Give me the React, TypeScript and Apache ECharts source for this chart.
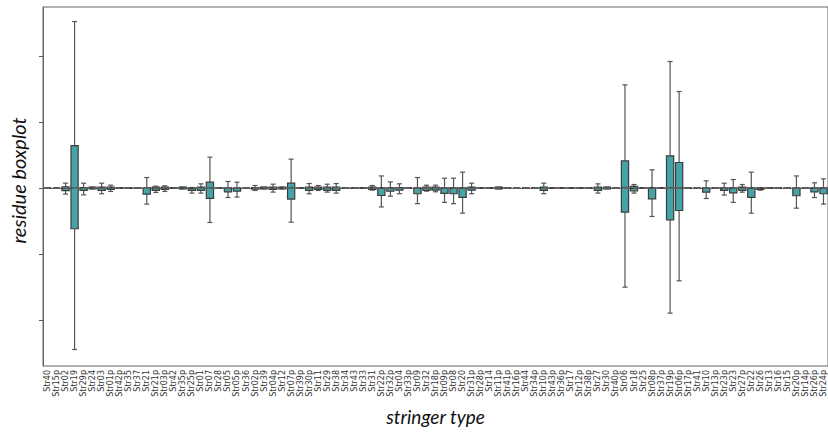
import React, { useEffect, useRef } from "react";
import * as echarts from "echarts";

// Stringer types along the x axis
const categories = [
  "Str40", "Str15p", "Str02", "Str19", "Str29p", "Str24", "Str03", "Str01p", "Str42p", "Str35",
  "Str37", "Str21", "Str21p", "Str03p", "Str42", "Str35p", "Str25p", "Str01", "Str07", "Str28",
  "Str05", "Str05p", "Str36", "Str02p", "Str39", "Str04p", "Str12", "Str07p", "Str39p", "Str30p",
  "Str11", "Str29", "Str38", "Str34", "Str43", "Str33", "Str31", "Str22p", "Str32p", "Str04",
  "Str33p", "Str09", "Str32", "Str18p", "Str09p", "Str08", "Str20", "Str31p", "Str28p", "Str14",
  "Str11p", "Str41p", "Str16p", "Str44", "Str34p", "Str10p", "Str43p", "Str36p", "Str17", "Str12p",
  "Str38p", "Str27", "Str30", "Str40p", "Str06", "Str18", "Str25", "Str08p", "Str37p", "Str19p",
  "Str06p", "Str17p", "Str41", "Str10", "Str13p", "Str23p", "Str23", "Str27p", "Str22", "Str26",
  "Str13", "Str16", "Str15", "Str20p", "Str14p", "Str26p", "Str24p",
];

// Lower whisker end per stringer type
const whiskerLow = [
  0, 0, -0.095, -2.45, -0.106, -0.015, -0.09, -0.055, 0, 0,
  0, -0.247, -0.07, -0.055, 0, -0.015, -0.08, -0.08, -0.525, 0,
  -0.147, -0.14, 0, -0.04, -0.015, -0.065, -0.015, -0.52, 0, -0.09,
  -0.04, -0.065, -0.08, 0, 0, 0, -0.035, -0.29, -0.126, -0.09,
  0, -0.24, -0.05, -0.06, -0.22, -0.24, -0.384, -0.09, 0, 0,
  -0.015, 0, 0, 0, 0, -0.09, 0, 0, 0, 0,
  0, -0.08, -0.015, 0, -1.505, -0.08, 0, -0.434, 0, -1.899,
  -1.409, 0, 0, -0.162, 0, -0.11, -0.22, -0.066, -0.384, -0.035,
  0, 0, 0, -0.308, 0, -0.147, -0.247,
];

// First quartile
const boxLow = [
  0, 0, -0.041, -0.62, -0.04, -0.015, -0.04, -0.025, 0, 0,
  0, -0.095, -0.04, -0.025, 0, -0.015, -0.04, -0.04, -0.16, 0,
  -0.06, -0.05, 0, -0.02, -0.015, -0.025, -0.015, -0.17, 0, -0.04,
  -0.025, -0.04, -0.04, 0, 0, 0, -0.025, -0.116, -0.05, -0.035,
  0, -0.09, -0.04, -0.035, -0.085, -0.09, -0.146, -0.035, 0, 0,
  -0.015, 0, 0, 0, 0, -0.04, 0, 0, 0, 0,
  0, -0.04, -0.015, 0, -0.368, -0.048, 0, -0.167, 0, -0.485,
  -0.344, 0, 0, -0.066, 0, -0.04, -0.076, -0.04, -0.146, -0.025,
  0, 0, 0, -0.12, 0, -0.06, -0.09,
];

// Median
const median = [
  0, 0, -0.01, 0, 0, 0, 0, 0, 0, 0,
  0, 0, -0.01, 0, 0, 0, -0.01, 0, 0, 0,
  -0.005, -0.005, 0, 0, 0, 0, 0, 0, 0, 0,
  0, 0, 0, 0, 0, 0, 0, -0.005, -0.005, 0,
  0, -0.005, 0, 0, -0.005, -0.005, -0.005, 0, 0, 0,
  0, 0, 0, 0, 0, 0, 0, 0, 0, 0,
  0, 0, 0, 0, 0.005, -0.01, 0, -0.005, 0, 0,
  0, 0, 0, -0.005, 0, -0.005, -0.005, 0, -0.005, -0.005,
  0, 0, 0, -0.005, 0, -0.005, -0.005,
];

// Third quartile
const boxHigh = [
  0, 0, 0.015, 0.64, 0.005, 0.01, 0.01, 0.01, 0, 0,
  0, 0.005, 0.01, 0.01, 0, 0.01, 0, 0.01, 0.086, 0,
  0, 0, 0, 0.005, 0.01, 0.01, 0.01, 0.07, 0, 0.01,
  0.01, 0.01, 0.01, 0, 0, 0, 0.01, 0, 0, 0.005,
  0, 0, 0.01, 0.01, 0, 0, 0, 0.01, 0, 0,
  0.01, 0, 0, 0, 0, 0.01, 0, 0, 0, 0,
  0, 0.01, 0.01, 0, 0.409, 0.023, 0, 0.005, 0, 0.485,
  0.384, 0, 0, 0.005, 0, 0, 0, 0.01, 0, 0,
  0, 0, 0, 0, 0, 0, 0,
];

// Upper whisker end
const whiskerHigh = [
  0, 0, 0.071, 2.52, 0.07, 0.01, 0.07, 0.04, 0, 0,
  0, 0.156, 0.025, 0.03, 0, 0.01, 0.005, 0.06, 0.465, 0,
  0.096, 0.086, 0, 0.035, 0.01, 0.055, 0.01, 0.434, 0, 0.065,
  0.035, 0.055, 0.065, 0, 0, 0, 0.035, 0.18, 0.09, 0.06,
  0, 0.156, 0.04, 0.04, 0.146, 0.146, 0.237, 0.07, 0, 0,
  0.01, 0, 0, 0, 0, 0.07, 0, 0, 0, 0,
  0, 0.06, 0.01, 0, 1.56, 0.05, 0, 0.273, 0, 1.914,
  1.459, 0, 0, 0.106, 0, 0.07, 0.126, 0.05, 0.237, 0,
  0, 0, 0, 0.18, 0, 0.076, 0.136,
];

const yTicks = [-2, -1, 0, 1, 2];

const BOX_FILL = "#46a4a8";
const BOX_EDGE = "#3c3c3c";
const WHISKER = "#555555";

export default function App() {
  const ref = useRef<HTMLDivElement>(null);

  useEffect(() => {
    if (!ref.current) return;
    const chart = echarts.init(ref.current, null, { renderer: "svg" });

    const rows = categories.map((_, i) => [
      i,
      whiskerLow[i],
      boxLow[i],
      median[i],
      boxHigh[i],
      whiskerHigh[i],
    ]);

    const renderBox = (_params: any, api: any) => {
      const i = api.value(0);
      const pLow = api.coord([i, api.value(1)]);
      const pQ1 = api.coord([i, api.value(2)]);
      const pMed = api.coord([i, api.value(3)]);
      const pQ3 = api.coord([i, api.value(4)]);
      const pHigh = api.coord([i, api.value(5)]);
      const band = api.size([1, 0])[0];
      const half = band * 0.4;
      const cap = band * 0.28;
      const cx = pQ1[0];
      const lineStyle = { stroke: WHISKER, lineWidth: 1.2 };
      return {
        type: "group",
        children: [
          { type: "line", shape: { x1: cx, y1: pHigh[1], x2: cx, y2: pQ3[1] }, style: lineStyle },
          { type: "line", shape: { x1: cx, y1: pQ1[1], x2: cx, y2: pLow[1] }, style: lineStyle },
          { type: "line", shape: { x1: cx - cap, y1: pHigh[1], x2: cx + cap, y2: pHigh[1] }, style: lineStyle },
          { type: "line", shape: { x1: cx - cap, y1: pLow[1], x2: cx + cap, y2: pLow[1] }, style: lineStyle },
          {
            type: "polygon",
            shape: {
              points: [
                [cx - half, pQ3[1]],
                [cx + half, pQ3[1]],
                [cx + half, pQ1[1]],
                [cx - half, pQ1[1]],
              ],
            },
            style: { fill: BOX_FILL, stroke: BOX_EDGE, lineWidth: 1.2 },
          },
          {
            type: "line",
            shape: { x1: cx - half, y1: pMed[1], x2: cx + half, y2: pMed[1] },
            style: { stroke: BOX_EDGE, lineWidth: 1.2 },
          },
        ],
      };
    };

    chart.setOption({
      animation: false,
      backgroundColor: "#ffffff",
      grid: {
        left: 42,
        top: 7,
        width: 787,
        height: 359,
        show: true,
        borderColor: "#666666",
        borderWidth: 1,
      },
      xAxis: {
        type: "category",
        data: categories,
        boundaryGap: true,
        name: "stringer type",
        nameLocation: "middle",
        nameGap: 41,
        nameTextStyle: {
          fontFamily: "Lato",
          fontStyle: "italic",
          fontWeight: "normal",
          fontSize: 19,
          color: "#111111",
        },
        axisLine: { lineStyle: { color: "#666666", width: 1 } },
        axisTick: { alignWithLabel: true, length: 3, lineStyle: { color: "#555555" } },
        axisLabel: {
          interval: 0,
          rotate: 90,
          margin: 4,
          fontFamily: "DejaVu Sans",
          fontSize: 8,
          color: "#333333",
        },
        splitLine: { show: false },
      },
      yAxis: {
        type: "value",
        min: -2.7,
        max: 2.74,
        name: "residue boxplot",
        nameLocation: "middle",
        nameGap: 15,
        nameRotate: 90,
        nameTextStyle: {
          fontFamily: "Lato",
          fontStyle: "italic",
          fontWeight: "normal",
          fontSize: 20,
          color: "#111111",
          padding: [0, 0, 0, 12],
        },
        axisLine: { show: true, lineStyle: { color: "#666666", width: 1 } },
        axisTick: {
          show: true,
          length: 4,
          customValues: yTicks,
          lineStyle: { color: "#555555" },
        },
        axisLabel: { show: false },
        splitLine: { show: false },
      },
      series: [
        {
          type: "custom",
          renderItem: renderBox,
          data: rows,
          encode: { x: 0, y: [1, 2, 3, 4, 5] },
          z: 2,
          markLine: {
            silent: true,
            symbol: "none",
            label: { show: false },
            lineStyle: { color: "#666666", width: 1.5, type: [7, 3] },
            data: [{ yAxis: 0 }],
          },
        },
      ],
    });

    return () => chart.dispose();
  }, []);

  return (
    <div
      ref={ref}
      style={{ position: "absolute", left: 0, top: 0, width: 828, height: 432 }}
    />
  );
}
